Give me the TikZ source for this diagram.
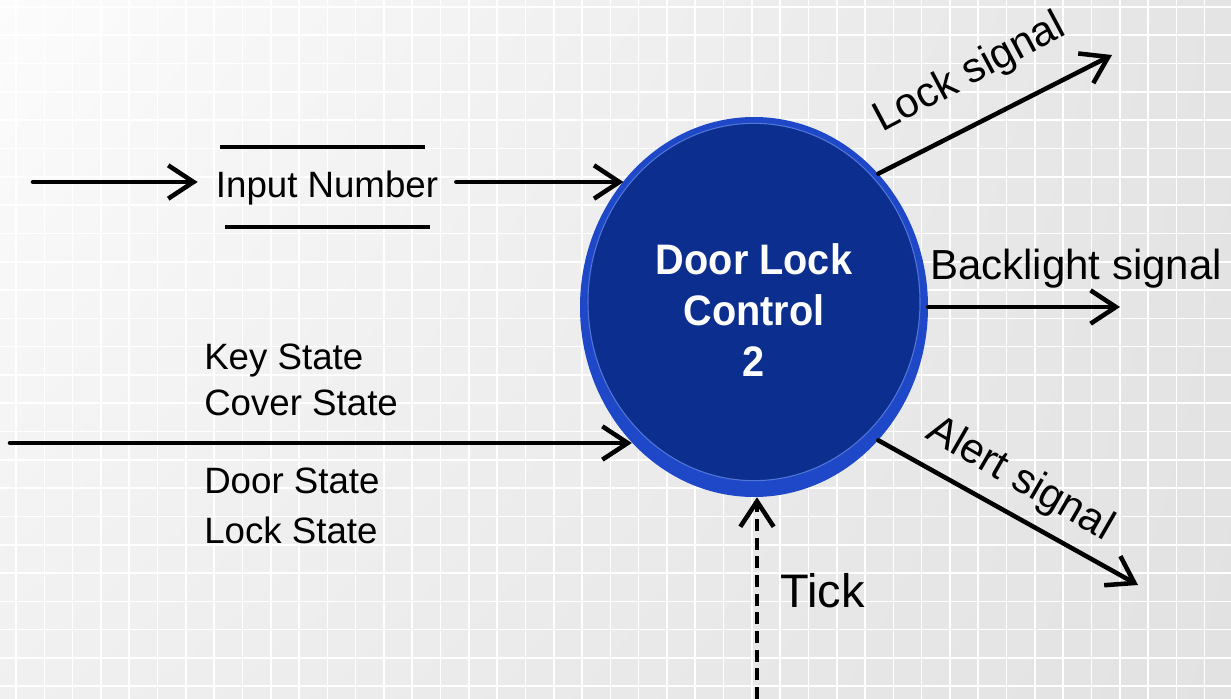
\documentclass[tikz,border=0pt]{standalone}
\usepackage{fontspec}
\setmainfont{Liberation Sans}
\newfontfamily\circfont[FakeStretch=0.93]{Liberation Sans}
\usetikzlibrary{arrows.meta,shapes.geometric,shadings}
\definecolor{bgA}{RGB}{252,252,252}
\definecolor{bgB}{RGB}{228,228,228}
\definecolor{bgC}{RGB}{240,240,240}
\definecolor{bgD}{RGB}{226,226,226}
\definecolor{ringblue}{RGB}{30,72,200}
\definecolor{coreblue}{RGB}{12,46,143}
\definecolor{coreedge}{RGB}{80,118,214}
\begin{document}
\begin{tikzpicture}[x=0.75pt,y=-0.75pt,
  gridline/.style={white,line width=1.2pt},
  flow/.style={line width=3.4pt,line cap=round,-{Straight Barb[length=19pt,width=25pt]}},
  tickflow/.style={line width=3.4pt,dash pattern=on 9pt off 5pt,-{Straight Barb[length=19pt,width=25pt]}},
  bar/.style={line width=3.4pt},
  leftlbl/.style={anchor=base west,inner sep=0,font=\fontsize{27.5pt}{32pt}\selectfont},
  rightlbl/.style={anchor=base west,inner sep=0,font=\fontsize{31.5pt}{36pt}\selectfont},
  proctext/.style={align=center,inner sep=0,font=\circfont\bfseries\fontsize{32pt}{38.25pt}\selectfont}
]
\useasboundingbox (0,0) rectangle (1231,699);
\shade[upper left=bgA, upper right=bgB, lower left=bgC, lower right=bgD] (0,0) rectangle (1231,699);
\foreach \k in {0,...,43} \draw[gridline] ({16+28.3*\k},0) -- ++(0,699);
\foreach \k in {0,...,24} \draw[gridline] (0,{7+28.3*\k}) -- ++(1231,0);

% process
\node[ellipse,fill=ringblue,minimum width=261pt,minimum height=285pt,inner sep=0] (circ) at (754,307) {};
\node[ellipse,fill=coreblue,draw=coreedge,line width=0.8pt,minimum width=249pt,minimum height=268pt,inner sep=0] (core) at (754,302) {};
\node[proctext,text=white] (ptitle) at (754,310) {Door Lock\\Control\\2};

% data store
\node[anchor=base,inner xsep=13.5pt,inner ysep=0,font=\fontsize{27.5pt}{32pt}\selectfont] (inp) at (327,197) {Input Number};
\draw[bar] (220,147) -- (425,147);
\draw[bar] (225,227) -- (430,227);

% coordinates for free ends
\coordinate (inStart) at (33,182);
\coordinate (stStart) at (10,443);
\coordinate (lockEnd) at (1112,55);
\coordinate (blEnd) at (1120,307);
\coordinate (alEnd) at (1138,585);
\coordinate (tickStart) at (757,699);

% flows
\draw[flow] (inStart) -- (inStart -| inp.west);
\draw[flow] (inStart -| inp.east) -- (inStart -| circ.136);
\draw[flow] (stStart) -- (stStart -| circ.228);
\draw[flow] (circ.47) -- (lockEnd);
\draw[flow] (circ.east) -- (circ.east -| blEnd);
\draw[flow] (circ.-47) -- (alEnd);
\draw[tickflow] (tickStart) -- (tickStart |- circ.south);

% labels
\node[leftlbl] (ks) at (204,369) {Key State};
\node[leftlbl] (cs) at (204,415) {Cover State};
\node[leftlbl] (ds) at (204,493) {Door State};
\node[leftlbl] (ls) at (204,543) {Lock State};
\node[rightlbl] (bls) at (930,279) {Backlight signal};
\node[rightlbl,rotate=28] (lks) at (882,133) {Lock signal};
\node[rightlbl,rotate=-30] (als) at (924,437) {Alert signal};
\node[anchor=base west,inner sep=0,font=\fontsize{35.25pt}{40pt}\selectfont] (tk) at (780,607) {Tick};
\end{tikzpicture}
\end{document}
